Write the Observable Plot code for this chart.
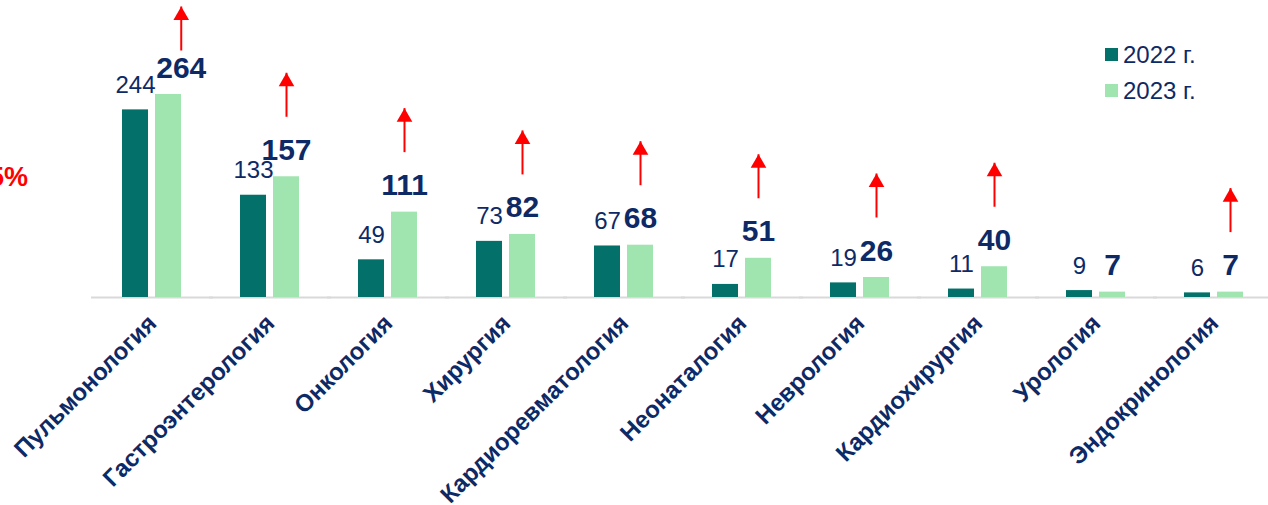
<!DOCTYPE html>
<html>
<head>
<meta charset="utf-8">
<script src="https://cdn.jsdelivr.net/npm/d3@7"></script>
<script src="https://cdn.jsdelivr.net/npm/@observablehq/plot@0.6"></script>
<style>
  html, body { margin: 0; padding: 0; background: #fff; }
  #wrap { position: relative; width: 1268px; height: 505px; overflow: hidden; font-family: "Liberation Sans", Arial, sans-serif; }
  #wrap svg { position: absolute; left: 0; top: 0; }
  .sq { position: absolute; left: 1105px; width: 12.5px; height: 12.5px; }
  .lt { position: absolute; left: 1123px; font-size: 24px; color: #0d2a66; line-height: 1; white-space: nowrap; }
  .pct { position: absolute; left: -40px; width: 68px; text-align: right; top: 164px; font-size: 27px; font-weight: bold; color: #ff0000; line-height: 1; }
</style>
</head>
<body>
<div id="wrap"></div>
<script>
// ---- data ----
const categories = ["Пульмонология", "Гастроэнтерология", "Онкология", "Хирургия", "Кардиоревматология",
                    "Неонаталогия", "Неврология", "Кардиохирургия", "Урология", "Эндокринология"];
const values2022 = [244, 133, 49, 73, 67, 17, 19, 11, 9, 6];
const values2023 = [264, 157, 111, 82, 68, 51, 26, 40, 7, 7];
const years = ["2022 г.", "2023 г."];
const sideNote = "5%";

// ---- styles ----
const colors = ["#03716a", "#a0e4b0"];
const navy = "#0d2a66";
const red = "#ff0000";
const font = "Liberation Sans, Arial, sans-serif";
const yTop = 94, yBase = 297;
const pxPerUnit = (yBase - yTop) / d3.max(values2023);

const rows = categories.flatMap((c, i) => [
  {cat: c, year: years[0], value: values2022[i]},
  {cat: c, year: years[1], value: values2023[i]}
]);

// collision-avoid shift for the bold 2023 label (and arrow) when it would sit on the 2022 label
const labelGap = 17;
const growth = categories.map((c, i) => {
  const v22 = values2022[i], v23 = values2023[i];
  const top22 = yBase - v22 * pxPerUnit, top23 = yBase - v23 * pxPerUnit;
  const w22 = String(v22).length * 0.556 * 24, w23 = String(v23).length * 0.556 * 30;
  const vOverlap = (top22 - top23) < 17;
  const shift = vOverlap ? Math.max(0, w22 / 2 + w23 / 2 + 1 - 33.3) : 0;
  const baseVal = Math.min(v23 + 60 / pxPerUnit, (yBase - 50) / pxPerUnit);
  return {cat: c, year: years[1], v22, v23, shift, base: baseVal, top: baseVal + 44 / pxPerUnit};
});
const ups = growth.filter(d => d.v23 > d.v22);

const marks = [
  Plot.ruleY([0], {stroke: "#d9d9d9", strokeWidth: 2, insetLeft: -31, insetRight: -31}),
  Plot.barY(rows, {fx: "cat", x: "year", y: "value", fill: "year"}),
  Plot.text(rows.filter(d => d.year === years[0]), {
    fx: "cat", x: "year", y: "value", text: d => String(d.value),
    lineAnchor: "bottom", dy: -labelGap, fontSize: 24, fill: navy, fontFamily: font
  }),
  Plot.axisFx({anchor: "bottom", tickRotate: -45, tickSize: 0, tickPadding: 22, fontSize: 24, fontWeight: "bold",
    fill: navy, label: null, fontFamily: font})
];
for (const d of growth) {
  marks.push(Plot.text([d], {
    fx: "cat", x: "year", y: "v23", text: dd => String(dd.v23), dx: d.shift,
    lineAnchor: "bottom", dy: -labelGap, fontSize: 30, fontWeight: "bold", fill: navy, fontFamily: font
  }));
}
for (const d of ups) {
  marks.push(Plot.link([d], {fx: "cat", x1: "year", x2: "year", y1: "base", y2: "top", dx: d.shift, stroke: red, strokeWidth: 2}));
  marks.push(Plot.dot([d], {fx: "cat", x: "year", y: "top", dx: d.shift, dy: 9, symbol: "triangle", r: 5.8, fill: red, stroke: "none"}));
}

const chart = Plot.plot({
  width: 1268,
  height: 505,
  marginLeft: 92,
  marginRight: -6,
  marginTop: 0,
  marginBottom: 505 - yBase,
  style: {background: "transparent", overflow: "visible"},
  fx: {domain: categories, paddingInner: 0.49, paddingOuter: 0.245, axis: null, label: null},
  x: {domain: years, paddingInner: 0.2, paddingOuter: 0, axis: null},
  y: {domain: [0, d3.max(values2023)], range: [yBase, yTop], axis: null},
  color: {domain: years, range: colors},
  marks
});

const wrap = document.getElementById("wrap");
wrap.appendChild(chart);

// legend
years.forEach((y, i) => {
  const sq = document.createElement("div");
  sq.className = "sq";
  sq.style.top = (48 + i * 36) + "px";
  sq.style.background = colors[i];
  wrap.appendChild(sq);
  const t = document.createElement("div");
  t.className = "lt";
  t.style.top = (43 + i * 36) + "px";
  t.textContent = y;
  wrap.appendChild(t);
});
const pct = document.createElement("div");
pct.className = "pct";
pct.textContent = sideNote;
wrap.appendChild(pct);
</script>
</body>
</html>
